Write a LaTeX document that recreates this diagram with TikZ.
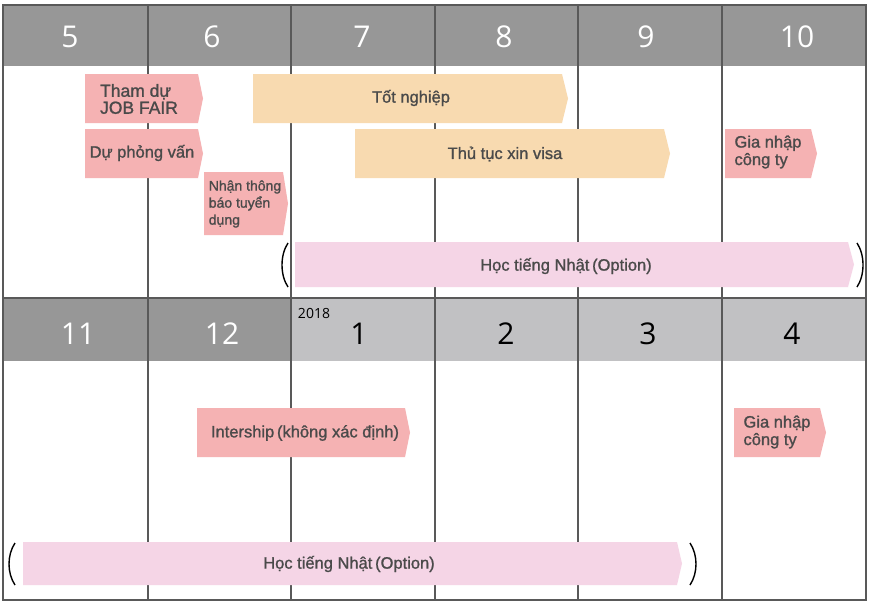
\documentclass[tikz,border=0pt]{standalone}
\usepackage{fontspec}
\usepackage{xcolor}
\usepackage{tikz}
\setmainfont{Liberation Sans}
\newfontfamily\barfont[FakeBold=1.2]{Liberation Sans}
\newfontfamily\numfont{Open Sans}
\definecolor{headDark}{HTML}{979797}
\definecolor{headLight}{HTML}{C1C1C3}
\definecolor{gridColor}{HTML}{595959}
\definecolor{pinkBar}{HTML}{F5B2B3}
\definecolor{orangeBar}{HTML}{F8DAB0}
\definecolor{lilacBar}{HTML}{F5D5E6}
\definecolor{textColor}{HTML}{4A4A4A}
\tikzset{
    gridline/.style={line width=2.6pt, gridColor},
    monthnum/.style={font=\numfont\fontsize{30}{30}\selectfont},
    bartext/.style={textColor, font=\barfont\fontsize{16.5}{17.5}\selectfont, align=left, inner sep=0pt},
    smalltext/.style={font=\barfont\fontsize{14}{17}\selectfont},
    paren/.style={line width=1.4pt, black}
}

\begin{document}
\begin{tikzpicture}[x=1pt, y=-1pt]
    \useasboundingbox (0,0) rectangle (869,603);
    % header rows
    \fill[headDark] (3,5) rectangle (866,66);
    \fill[headDark] (3,298) rectangle (291,361);
    \fill[headLight] (291,298) rectangle (866,361);
    \fill[white] (3,66) rectangle (866,298);
    \fill[white] (3,361) rectangle (866,600);
    % grid
    \draw[gridline] (3,5) rectangle (866,600);
    \draw[gridline] (3,298) -- (866,298);
    \draw[gridline] (148,5) -- (148,600);
    \draw[gridline] (291,5) -- (291,600);
    \draw[gridline] (435,5) -- (435,600);
    \draw[gridline] (578,5) -- (578,600);
    \draw[gridline] (722,5) -- (722,600);
    % month numbers
    \node[monthnum, white] (m5) at (70,37) {5};
    \node[monthnum, white] (m6) at (212,37) {6};
    \node[monthnum, white] (m7) at (362,37) {7};
    \node[monthnum, white] (m8) at (504,37) {8};
    \node[monthnum, white] (m9) at (646,37) {9};
    \node[monthnum, white] (m10) at (797,37) {10};
    \node[monthnum, white] (m11) at (78,334) {11};
    \node[monthnum, white] (m12) at (222,334) {12};
    \node[monthnum, black] (m1) at (359,334) {1};
    \node[monthnum, black] (m2) at (506,334) {2};
    \node[monthnum, black] (m3) at (648,334) {3};
    \node[monthnum, black] (m4) at (792,334) {4};
    \node[font=\numfont\fontsize{14}{14}\selectfont, black] (year) at (314,313) {2018};
    % bars, first half
    \fill[pinkBar] (85,74) -- (198,74) -- (203,98.5) -- (198,123) -- (85,123) -- cycle;
    \node[bartext, font=\barfont\fontsize{17.5}{17}\selectfont] (jobfair) at (139,99) {Tham dự\\JOB FAIR};
    \fill[pinkBar] (85,129) -- (198,129) -- (203,153.5) -- (198,178) -- (85,178) -- cycle;
    \node[bartext] (interview) at (142,153) {Dự phỏng vấn};
    \fill[pinkBar] (204,172) -- (283,172) -- (288,203.5) -- (283,235) -- (204,235) -- cycle;
    \node[bartext, smalltext] (result) at (245,204) {Nhận thông\\báo tuyển\\dụng};
    \fill[orangeBar] (253,74) -- (562,74) -- (568,98.5) -- (562,123) -- (253,123) -- cycle;
    \node[bartext] (graduate) at (411,98) {Tốt nghiệp};
    \fill[orangeBar] (355,129) -- (664,129) -- (670,153.5) -- (664,178) -- (355,178) -- cycle;
    \node[bartext] (visa) at (505,154) {Thủ tục xin visa};
    \fill[pinkBar] (725,129) -- (811,129) -- (817,153.5) -- (811,178) -- (725,178) -- cycle;
    \node[bartext] (join1) at (768,152) {Gia nhập\\công ty};
    \fill[lilacBar] (295,242) -- (848,242) -- (854,264.5) -- (848,287) -- (295,287) -- cycle;
    \node[bartext] (japan1) at (566,266) {Học tiếng Nhật\,(Option)};
    \draw[paren] (288,243) .. controls (280,255) and (280,275) .. (288,287);
    \draw[paren] (857,243) .. controls (865,255) and (865,275) .. (857,287);
    % bars, second half
    \fill[pinkBar] (197,408) -- (405,408) -- (410,432.5) -- (405,457) -- (197,457) -- cycle;
    \node[bartext] (intern) at (305,433) {Intership\,(không xác định)};
    \fill[pinkBar] (734,408) -- (820,408) -- (826,432.5) -- (820,457) -- (734,457) -- cycle;
    \node[bartext] (join2) at (777,432) {Gia nhập\\công ty};
    \fill[lilacBar] (23,542) -- (677,542) -- (682,563.5) -- (677,585) -- (23,585) -- cycle;
    \node[bartext] (japan2) at (349,564) {Học tiếng Nhật\,(Option)};
    \draw[paren] (15,543) .. controls (7,555) and (7,573) .. (15,585);
    \draw[paren] (690,543) .. controls (698,555) and (698,573) .. (690,585);
\end{tikzpicture}
\end{document}
